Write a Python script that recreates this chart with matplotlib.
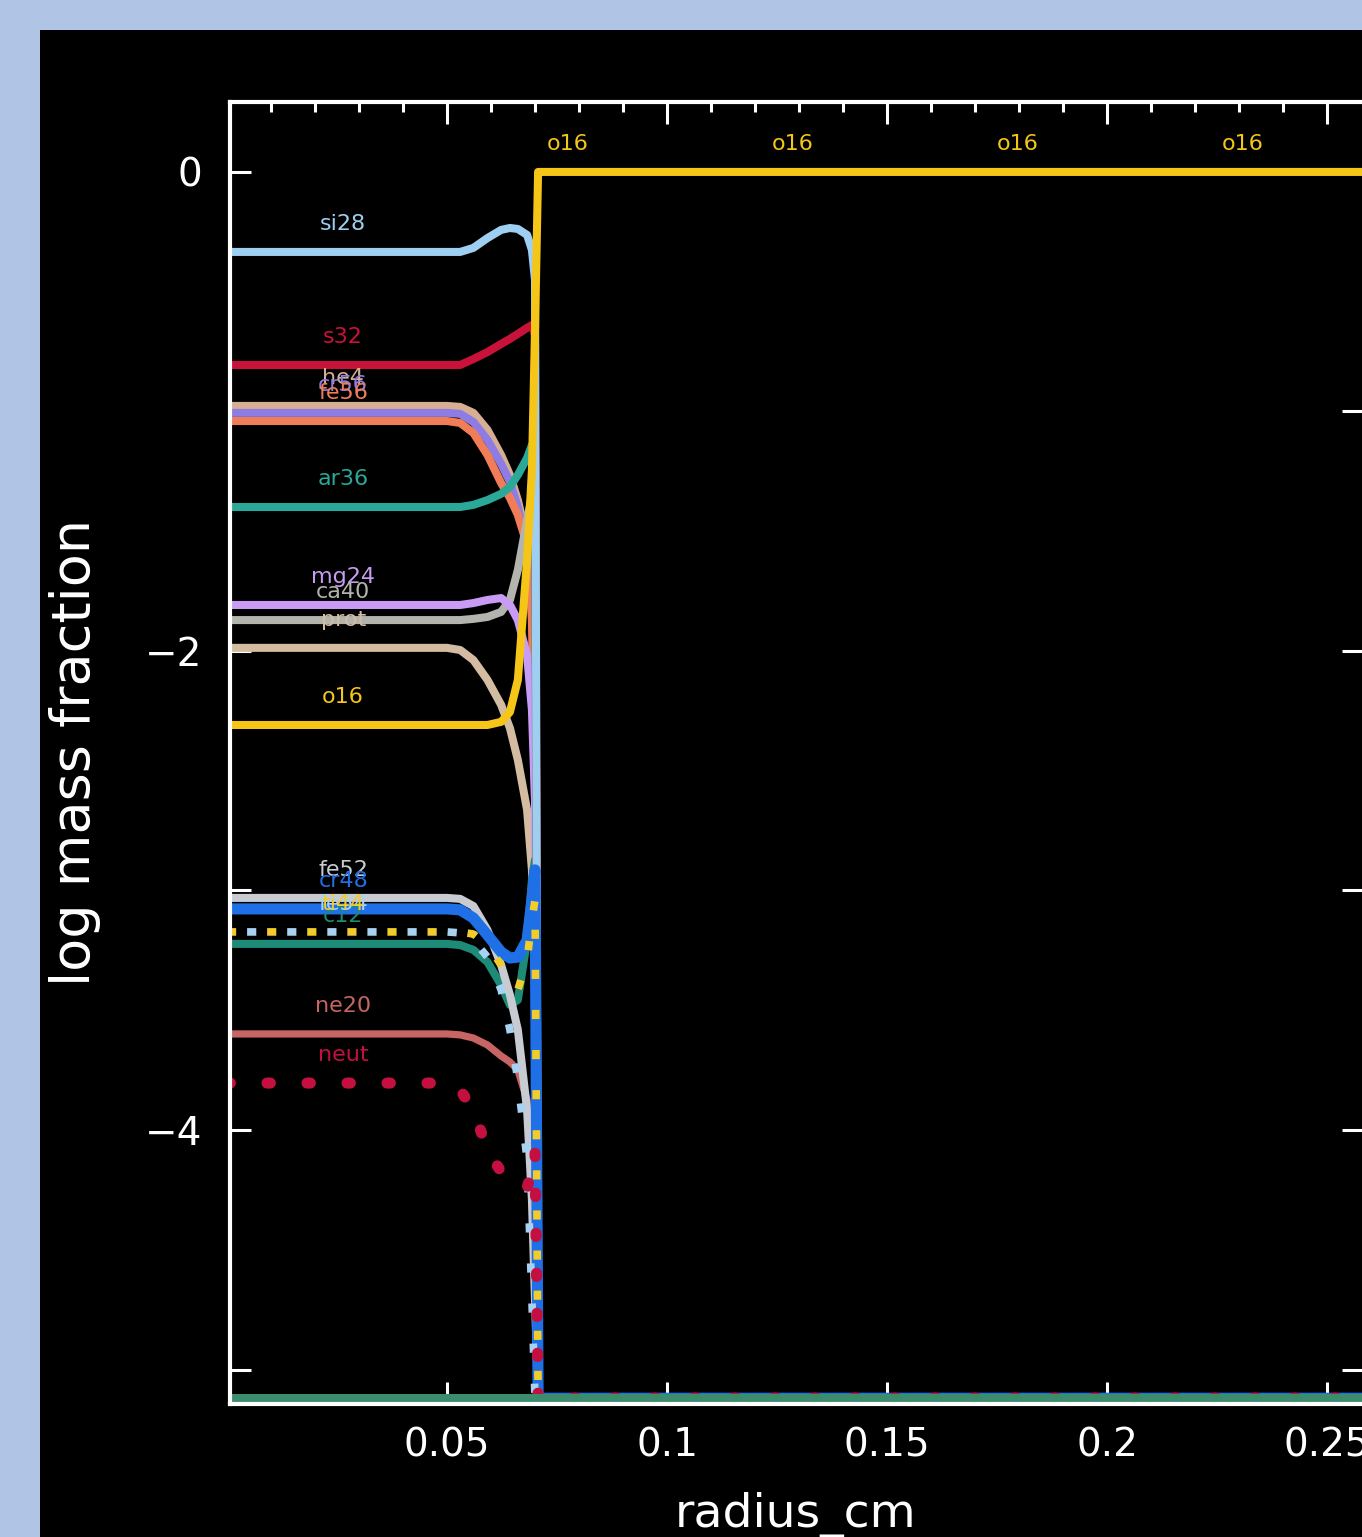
import numpy as np
import matplotlib
matplotlib.use("Agg")
import matplotlib.pyplot as plt
from matplotlib.patches import Rectangle
from matplotlib.ticker import MultipleLocator, FuncFormatter

# radius grid (cm) shared by all species
radius = [0.0, 0.050, 0.053, 0.0560, 0.0592, 0.0623, 0.0643, 0.0661, 0.0682,
          0.0693, 0.0700, 0.0707, 0.0712, 0.258]

FLOOR = -5.12  # values below the plot floor are drawn on it

o16 = [-2.309, -2.309, -2.309, -2.309, -2.309, -2.296, -2.255, -2.121, -1.620,
       -1.244, -0.660, 0.0, 0.0, 0.0]
si28 = [-0.334, -0.334, -0.334, -0.317, -0.276, -0.242, -0.234, -0.238, -0.263,
        -0.326, -0.451, FLOOR, FLOOR, FLOOR]
s32 = [-0.806, -0.806, -0.806, -0.781, -0.752, -0.718, -0.697, -0.676, -0.651,
       -0.639, -0.681, FLOOR, FLOOR, FLOOR]
he4 = [-0.977, -0.977, -0.981, -1.006, -1.077, -1.182, -1.265, -1.370, -1.537,
       -1.787, -2.205, FLOOR, FLOOR, FLOOR]
cr56 = [-1.006, -1.006, -1.010, -1.044, -1.119, -1.219, -1.294, -1.399, -1.557,
        -1.787, -2.121, FLOOR, FLOOR, FLOOR]
fe56 = [-1.040, -1.040, -1.048, -1.090, -1.182, -1.299, -1.361, -1.432, -1.557,
        -1.871, -2.622, FLOOR, FLOOR, FLOOR]
ar36 = [-1.399, -1.399, -1.399, -1.390, -1.370, -1.344, -1.315, -1.265, -1.194,
        -1.140, -1.140, FLOOR, FLOOR, FLOOR]
mg24 = [-1.808, -1.808, -1.808, -1.800, -1.787, -1.779, -1.808, -1.871, -2.017,
        -2.246, -2.622, FLOOR, FLOOR, FLOOR]
ca40 = [-1.871, -1.871, -1.871, -1.866, -1.858, -1.837, -1.787, -1.662, -1.453,
        -1.349, -1.244, FLOOR, FLOOR, FLOOR]
prot = [-1.987, -1.987, -1.996, -2.038, -2.121, -2.225, -2.322, -2.455, -2.664,
        -2.914, -3.290, FLOOR, FLOOR, FLOOR]
fe52 = [-3.031, -3.031, -3.035, -3.065, -3.165, -3.311, -3.436, -3.582, -3.916,
        -4.292, -4.710, FLOOR, FLOOR, FLOOR]
cr48 = [-3.077, -3.077, -3.081, -3.115, -3.186, -3.257, -3.282, -3.278, -3.207,
        -3.040, -2.914, FLOOR, FLOOR, FLOOR]
ti44 = [-3.173, -3.173, -3.173, -3.182, -3.228, -3.311, -3.395, -3.415, -3.290,
        -3.123, -3.040, FLOOR, FLOOR, FLOOR]
fe54 = [-3.173, -3.173, -3.177, -3.207, -3.278, -3.415, -3.582, -3.791, -4.125,
        -4.710, FLOOR, FLOOR, FLOOR, FLOOR]
c12 = [-3.223, -3.223, -3.228, -3.248, -3.299, -3.395, -3.478, -3.457, -3.207,
       -2.956, -2.873, FLOOR, FLOOR, FLOOR]
ne20 = [-3.599, -3.599, -3.603, -3.616, -3.645, -3.691, -3.716, -3.749, -3.875,
        -4.125, -4.501, FLOOR, FLOOR, FLOOR]
neut = [-3.804, -3.804, -3.833, -3.916, -4.084, -4.175, -4.209, -4.230, -4.242,
        -4.167, -4.084, FLOOR, FLOOR, FLOOR]
h1 = [FLOOR] * len(radius)

# (name, values, color, width, style, capstyle) in drawing order
series = [
    ("he4", he4, "#d6ae92", 5.8, "-", "butt"),
    ("cr56", cr56, "#8c7ce4", 5.8, "-", "butt"),
    ("fe56", fe56, "#f07c58", 5.8, "-", "butt"),
    ("prot", prot, "#d4bca2", 5.8, "-", "butt"),
    ("ca40", ca40, "#b4b4ae", 5.8, "-", "butt"),
    ("mg24", mg24, "#c89cf4", 5.8, "-", "butt"),
    ("ar36", ar36, "#2aa898", 5.8, "-", "butt"),
    ("ne20", ne20, "#c86464", 5.2, "-", "butt"),
    ("c12", c12, "#1e8a78", 5.8, "-", "butt"),
    ("fe52", fe52, "#c8ccd2", 5.8, "-", "butt"),
    ("s32", s32, "#c8123a", 5.8, "-", "butt"),
    ("si28", si28, "#9ecff0", 5.8, "-", "butt"),
    ("cr48", cr48, "#1f70e6", 8.0, "-", "butt"),
    ("fe54", fe54, "#a8d2f2", 5.5, (2.62, (1.2, 4.05)), "butt"),
    ("ti44", ti44, "#f2cc2a", 5.5, (0, (1.2, 4.05)), "butt"),
    ("neut", neut, "#c41040", 8.0, (0, (0.3, 3.3)), "round"),
    ("o16", o16, "#f5c518", 5.8, "-", "butt"),
    ("h1", h1, "#3c8c6e", 5.8, "-", "butt"),
]

label_x = [0.0264, 0.0775, 0.1286, 0.1797, 0.2308]

fig = plt.figure(figsize=(13.62, 15.37), dpi=100, facecolor="#b0c4e6")
# black panel behind the plot
panel = fig.add_axes([40 / 1362, 0, 1 - 40 / 1362, 1507 / 1537], zorder=-5)
panel.set_axis_off()
panel.add_patch(Rectangle((0, 0), 1, 1, transform=panel.transAxes, color="black"))

ax = fig.add_axes([230 / 1362, 133 / 1537, 1133 / 1362, 1302 / 1537])
ax.set_facecolor("black")

for name, vals, color, lw, ls, cap in series:
    ax.plot(radius, vals, color=color, lw=lw, ls=ls, dash_capstyle=cap,
            solid_joinstyle="round", zorder=2)
    if name == "h1":
        continue
    for lx in label_x:
        v = np.interp(lx, radius, vals)
        if v <= FLOOR + 0.01:
            continue
        ax.annotate(name, (lx, v), xytext=(0, 20), textcoords="offset points",
                    ha="center", va="center", color=color, fontsize=16, zorder=3)

ax.set_xlim(0.00068, 0.25818)
ax.set_ylim(-5.144, 0.292)

ax.xaxis.set_major_locator(MultipleLocator(0.05))
ax.xaxis.set_minor_locator(MultipleLocator(0.01))
ax.yaxis.set_major_locator(MultipleLocator(2))
ax.yaxis.set_minor_locator(MultipleLocator(1))
ax.xaxis.set_major_formatter(FuncFormatter(lambda v, p: "%g" % round(v, 3)))
ax.yaxis.set_major_formatter(FuncFormatter(lambda v, p: ("%d" % round(v)).replace("-", "\u2212")))

ax.tick_params(which="both", direction="in", top=True, right=True, colors="white",
               labelsize=28, width=2.2)
ax.tick_params(axis="x", which="major", length=16, pad=16)
ax.tick_params(axis="x", which="minor", length=7)
ax.tick_params(axis="y", which="major", length=15, pad=20)
ax.tick_params(axis="y", which="minor", length=15)
for sp in ax.spines.values():
    sp.set_color("white")
    sp.set_linewidth(3)

fig.text(796 / 1362, 1 - 1515 / 1537, "radius_cm", color="white", fontsize=34,
         ha="center", va="center")
fig.text(75 / 1362, 1 - 752 / 1537, "log mass fraction", color="white", fontsize=39,
         ha="center", va="center", rotation=90)

fig.savefig("out.png", dpi=100, facecolor=fig.get_facecolor())
